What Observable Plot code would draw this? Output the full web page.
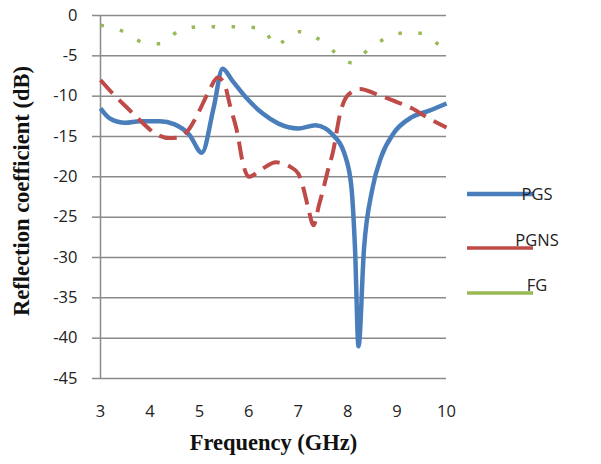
<!DOCTYPE html>
<html><head><meta charset="utf-8">
<script src="https://cdn.jsdelivr.net/npm/d3@7"></script>
<script src="https://cdn.jsdelivr.net/npm/@observablehq/plot@0.6"></script>
<style>body{margin:0;background:#fff} #chart{width:601px;height:464px}</style>
</head><body><div id="chart"></div>
<script>
const seriesNames = ["PGS", "PGNS", "FG"];
const freqPGS = [3.0, 3.2, 3.5, 3.8, 4.2, 4.5, 4.8, 5.05, 5.29, 5.47, 5.67, 5.95, 6.27, 6.6, 7.0, 7.35, 7.55, 7.67, 7.96, 8.08, 8.15, 8.22, 8.33, 8.5, 8.68, 8.93, 9.3, 9.65, 10.0];
const valPGS  = [-11.5, -12.8, -13.3, -13.1, -13.1, -13.5, -14.8, -17.0, -11.4, -6.6, -8.1, -10.2, -12.1, -13.4, -14.0, -13.6, -14.0, -14.6, -17.6, -21.5, -29, -41, -29, -21.5, -17.5, -14.6, -12.6, -11.8, -10.9];
const freqPGNS = [3.0, 3.25, 3.55, 3.8, 4.1, 4.4, 4.6, 4.8, 5.0, 5.2, 5.37, 5.5, 5.63, 5.77, 5.87, 6.0, 6.25, 6.55, 6.85, 7.0, 7.1, 7.2, 7.31, 7.42, 7.5, 7.6, 7.7, 7.85, 8.0, 8.25, 8.6, 8.9, 9.3, 9.6, 10.0];
const valPGNS  = [-8.0, -9.7, -11.5, -13.0, -14.6, -15.2, -15.1, -14.0, -11.8, -9.3, -7.7, -8.4, -11.4, -14.6, -18.0, -20.0, -19.1, -18.2, -18.8, -19.6, -21.3, -23.8, -26.0, -23.5, -21.7, -19.2, -17.0, -12.1, -9.9, -9.1, -9.8, -10.5, -11.5, -12.6, -13.9];
const freqFG = [3.0, 3.47, 3.85, 4.23, 4.58, 4.98, 5.43, 5.87, 6.3, 6.54, 6.7, 7.03, 7.41, 7.75, 8.1, 8.42, 8.66, 9.07, 9.49, 9.86, 10.0];
const valFG  = [-1.2, -2.0, -3.3, -3.5, -1.9, -1.4, -1.4, -1.4, -1.7, -3.8, -3.2, -2.0, -2.9, -4.6, -5.9, -4.2, -3.2, -2.2, -2.2, -3.6, -3.8];
const xTicks = [3, 4, 5, 6, 7, 8, 9, 10];
const yTicks = [0, -5, -10, -15, -20, -25, -30, -35, -40, -45];
const xTitle = "Frequency (GHz)";
const yTitle = "Reflection coefficient (dB)";

const colors = {PGS: "#4a7ebb", PGNS: "#be4b48", FG: "#98b954"};
const styles = {
  PGS: {strokeWidth: 4.5, dash: null},
  PGNS: {strokeWidth: 4, dash: "18,9"},
  FG: {strokeWidth: 3.5, dash: "3.5,16.5"}
};
const toRows = (s, fs, vs) => fs.map((f, i) => ({s, f, v: vs[i]}));
const dataBy = {
  PGS: toRows("PGS", freqPGS, valPGS),
  PGNS: toRows("PGNS", freqPGNS, valPGNS),
  FG: toRows("FG", freqFG, valFG)
};

const W = 601, H = 464, mL = 100, mR = 155, mT = 15, mB = 86;
const grid = "#8a8a8a";
const sansFont = "'Open Sans', sans-serif";
const serifFont = "'Liberation Serif', 'Times New Roman', serif";

const plot = Plot.plot({
  width: W, height: H,
  marginLeft: mL, marginRight: mR, marginTop: mT, marginBottom: mB,
  style: {fontFamily: sansFont, fontSize: "16px", background: "#fff", color: "#222"},
  x: {domain: [3, 10]},
  y: {domain: [-45, 0]},
  marks: [
    Plot.gridY(yTicks, {stroke: grid, strokeOpacity: 1, strokeWidth: 1.5}),
    Plot.ruleX([3], {stroke: grid, strokeWidth: 1.5}),
    Plot.axisY(yTicks, {tickSize: 8, tickPadding: 15, stroke: grid, strokeWidth: 1.5, label: null, fontSize: 16.5, tickFormat: d => String(d)}),
    Plot.axisX(xTicks, {tickSize: 0, tickPadding: 27, label: null, fontSize: 16.5, tickFormat: d => String(d)}),
    ...seriesNames.map(n => Plot.line(dataBy[n], {
      x: "f", y: "v", stroke: colors[n], strokeWidth: styles[n].strokeWidth,
      strokeDasharray: styles[n].dash, curve: "monotone-x",
      strokeLinecap: "butt", strokeLinejoin: "round"
    })),
    Plot.text([yTitle], {frameAnchor: "left", textAnchor: "middle", rotate: -90, dx: -79, dy: -6,
      fontFamily: serifFont, fontWeight: "bold", fontSize: 22.5, fill: "#111"}),
    Plot.text([xTitle], {frameAnchor: "bottom", textAnchor: "middle", dy: 71,
      fontFamily: serifFont, fontWeight: "bold", fontSize: 22.5, fill: "#111"})
  ]
});

// Legend to the right of the plotting frame
const svg = d3.select(plot);
const lx0 = W - mR + 21, lx1 = lx0 + 66;
const legendPos = [{n: "PGS", ly: 194, ty: 194}, {n: "PGNS", ly: 248, ty: 240}, {n: "FG", ly: 293, ty: 285}];
const lg = svg.append("g").attr("font-family", sansFont).attr("font-size", 16.5).attr("fill", "#222");
legendPos.forEach(p => {
  lg.append("line").attr("x1", lx0).attr("x2", lx1).attr("y1", p.ly).attr("y2", p.ly)
    .attr("stroke", colors[p.n]).attr("stroke-width", p.n === "PGS" ? 4.5 : 3.5);
  lg.append("text").attr("x", lx1 + 4).attr("y", p.ty).attr("dy", "0.35em").text(p.n);
});

document.getElementById("chart").appendChild(plot);
</script>
</body></html>
